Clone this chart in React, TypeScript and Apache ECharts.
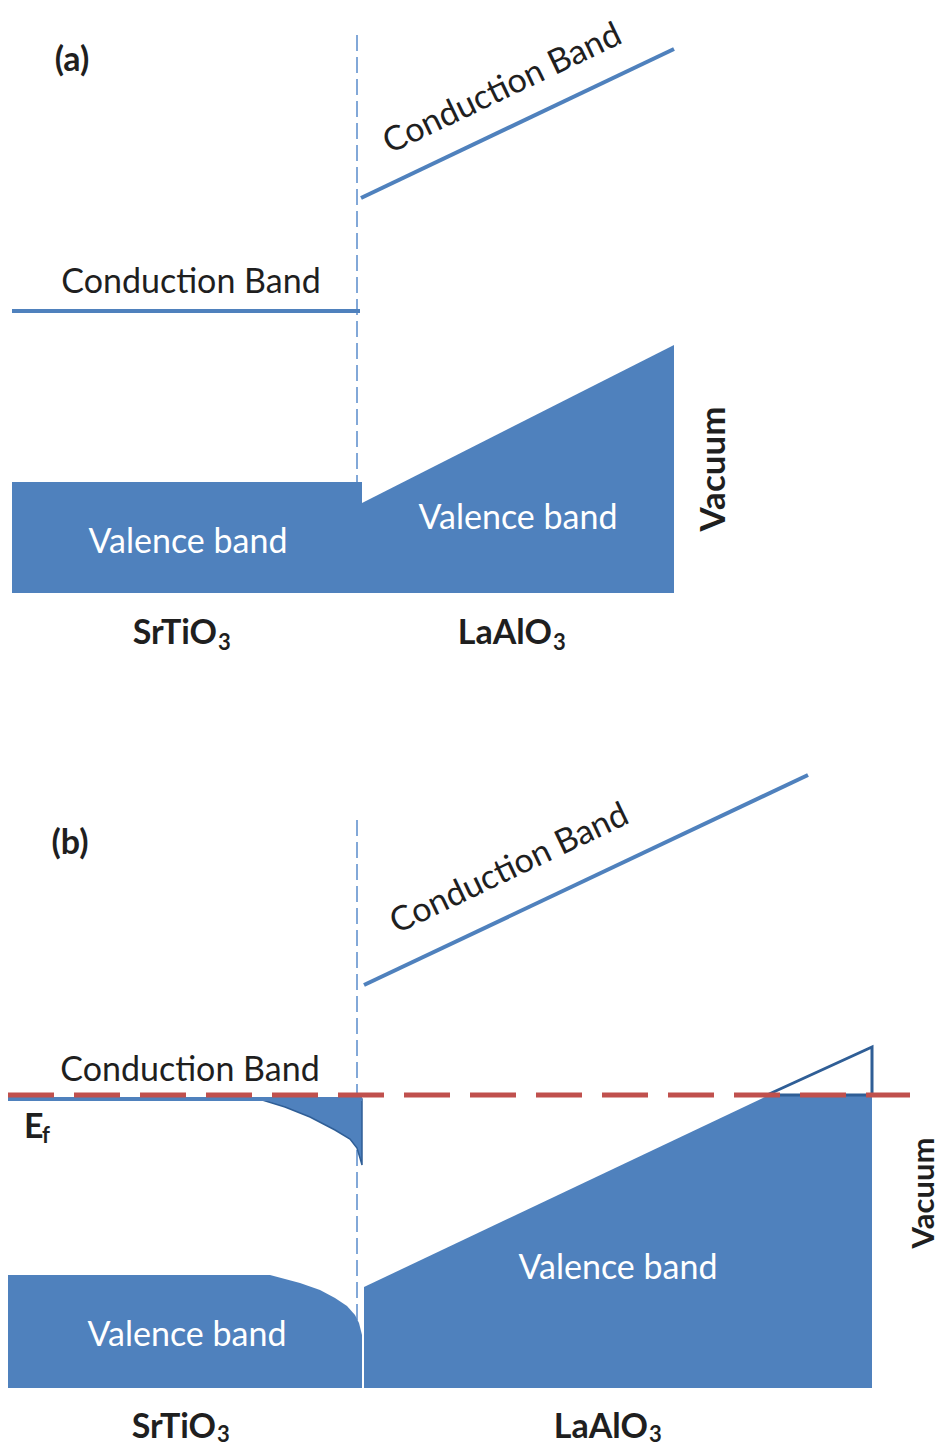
import React, { useEffect, useRef } from "react";
import * as echarts from "echarts";

// Panel geometry: x = position (px-like units across the figure), y = energy (arbitrary units, up = higher)
// Panel (a)
const aInterface = [[357, 688], [357, 130]];
const aStoCB = [[12, 412], [360, 412]];
const aLaoCB = [[361, 525], [674, 674]];
const aStoVB = [[12, 241], [362, 241], [362, 130], [12, 130]];
const aLaoVB = [[362, 220], [674, 378], [674, 130], [362, 130]];

// Panel (b)
const bInterface = [[357, 626], [357, 56]];
const bStoCB = [[8, 347], [362, 347]];
const bFermi = [[8, 351], [910, 351]];
const bLaoCB = [[364, 461], [808, 671]];
const bDepletion = [
  [262, 347], [362, 347], [362, 281], [360, 288], [357, 298], [350, 307],
  [335, 316], [310, 329], [285, 339], [262, 346],
];
const bStoVB = [
  [8, 171], [270, 171], [300, 163], [320, 156], [335, 148], [347, 140],
  [355, 131], [359, 123], [362, 111], [362, 58], [8, 58],
];
const bLaoVB = [[364, 159], [767, 350], [872, 350], [872, 58], [364, 58]];
const bTriangle = [[767, 351], [872, 399], [872, 351]];

const BLUE = "#4f81bd";
const DARK_BLUE = "#2f5e96";
const RED = "#c0504d";
const TEXT = "#1f1f1f";
const FONT = "Lato, 'Open Sans', sans-serif";
const REG = 34;
const BOLD = 34;

function polySeries(points: number[][], idx: number, style: any, z = 1) {
  return {
    type: "custom",
    xAxisIndex: idx,
    yAxisIndex: idx,
    coordinateSystem: "cartesian2d",
    data: points,
    clip: false,
    z,
    renderItem: (params: any, api: any) => {
      if (params.dataIndex !== 0) return null;
      return {
        type: "polygon",
        shape: { points: points.map((p) => api.coord(p)) },
        style,
      };
    },
  };
}

function lineSeries(points: number[][], idx: number, lineStyle: any, z = 2) {
  return {
    type: "line",
    xAxisIndex: idx,
    yAxisIndex: idx,
    data: points,
    symbol: "none",
    silent: true,
    z,
    lineStyle,
  };
}

function txt(text: string, x: number, y: number, size: number, opts: any = {}) {
  return {
    type: "text",
    x,
    y,
    rotation: opts.rotation || 0,
    z: 10,
    style: {
      text,
      fill: opts.fill || TEXT,
      font: `${opts.bold ? "bold " : ""}${size}px ${FONT}`,
      textAlign: opts.align || "center",
      textVerticalAlign: opts.valign || "middle",
    },
  };
}

function formula(main: string, sub: string, cx: number, y: number, subDy = 11) {
  const split = cx + 36;
  return [
    txt(main, split, y, BOLD, { bold: true, align: "right" }),
    txt(sub, split + 1, y + subDy, 22, { bold: true, align: "left" }),
  ];
}

export default function App() {
  const ref = useRef<HTMLDivElement>(null);
  useEffect(() => {
    document.body.style.margin = "0";
    const chart = echarts.init(ref.current!, null, { renderer: "svg" });
    const grids = [
      { left: 0, top: 0, width: 942, height: 723 },
      { left: 0, top: 723, width: 942, height: 723 },
    ];
    const angle = (25.5 * Math.PI) / 180;
    chart.setOption({
      animation: false,
      backgroundColor: "#ffffff",
      grid: grids,
      xAxis: [0, 1].map((i) => ({ type: "value", gridIndex: i, min: 0, max: 942, show: false })),
      yAxis: [0, 1].map((i) => ({ type: "value", gridIndex: i, min: 0, max: 723, show: false })),
      series: [
        // panel a
        lineSeries(aInterface, 0, { color: "#5a8ccb", width: 1.5, type: [16, 6] }, 0),
        polySeries(aStoVB, 0, { fill: BLUE }),
        polySeries(aLaoVB, 0, { fill: BLUE }),
        lineSeries(aStoCB, 0, { color: BLUE, width: 4 }),
        lineSeries(aLaoCB, 0, { color: BLUE, width: 4 }),
        // panel b
        lineSeries(bInterface, 1, { color: "#5a8ccb", width: 1.5, type: [16, 6] }, 0),
        polySeries(bStoVB, 1, { fill: BLUE }),
        polySeries(bLaoVB, 1, { fill: BLUE }),
        polySeries(bDepletion, 1, { fill: BLUE, stroke: DARK_BLUE, lineWidth: 1.5 }),
        polySeries(bTriangle, 1, { fill: "none", stroke: DARK_BLUE, lineWidth: 3, lineJoin: "miter" }, 2),
        lineSeries(bStoCB, 1, { color: BLUE, width: 4 }),
        lineSeries(bLaoCB, 1, { color: BLUE, width: 4 }),
        lineSeries(bFermi, 1, { color: RED, width: 5, type: [46, 20] }, 4),
      ],
      graphic: [
        txt("(a)", 72, 57, BOLD, { bold: true }),
        txt("Conduction Band", 191, 279, REG),
        txt("Conduction Band", 501, 86, REG, { rotation: angle }),
        txt("Valence band", 188, 539, REG, { fill: "#ffffff" }),
        txt("Valence band", 518, 515, REG, { fill: "#ffffff" }),
        txt("Vacuum", 711, 469, 35, { bold: true, rotation: Math.PI / 2 }),
        ...formula("SrTiO", "3", 181, 630),
        ...formula("LaAlO", "3", 516, 630),

        txt("(b)", 70, 840, BOLD, { bold: true }),
        txt("Conduction Band", 190, 1067, REG),
        txt("Conduction Band", 508, 866, REG, { rotation: angle }),
        txt("Valence band", 187, 1332, REG, { fill: "#ffffff" }),
        txt("Valence band", 618, 1265, REG, { fill: "#ffffff" }),
        txt("Vacuum", 922, 1193, 31, { bold: true, rotation: Math.PI / 2 }),
        txt("E", 24, 1124, BOLD, { bold: true, align: "left" }),
        txt("f", 42, 1134, 22, { bold: true, align: "left" }),
        ...formula("SrTiO", "3", 180, 1424, 9),
        ...formula("LaAlO", "3", 612, 1424, 9),
      ],
    });
    return () => chart.dispose();
  }, []);
  return <div ref={ref} style={{ width: 942, height: 1446 }} />;
}
